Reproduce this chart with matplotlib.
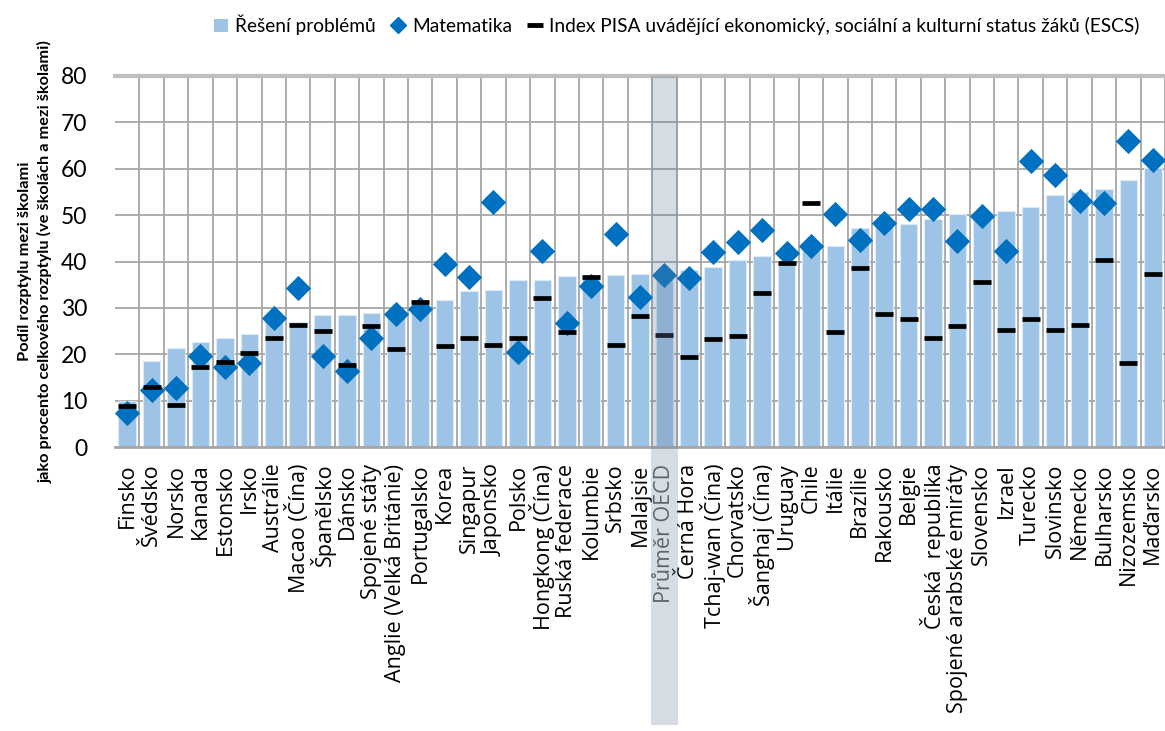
import matplotlib
matplotlib.use("Agg")
import matplotlib.pyplot as plt
from matplotlib.lines import Line2D
from matplotlib.patches import Patch, Rectangle
import matplotlib.transforms as mtransforms

categories = ["Finsko", "Švédsko", "Norsko", "Kanada", "Estonsko", "Irsko", "Austrálie",
              "Macao (Čína)", "Španělsko", "Dánsko", "Spojené státy", "Anglie (Velká Británie)",
              "Portugalsko", "Korea", "Singapur", "Japonsko", "Polsko", "Hongkong (Čína)",
              "Ruská federace", "Kolumbie", "Srbsko", "Malajsie", "Průměr OECD", "Černá Hora",
              "Tchaj-wan (Čína)", "Chorvatsko", "Šanghaj (Čína)", "Uruguay", "Chile", "Itálie",
              "Brazílie", "Rakousko", "Belgie", "Česká  republika", "Spojené arabské emiráty",
              "Slovensko", "Izrael", "Turecko", "Slovinsko", "Německo", "Bulharsko",
              "Nizozemsko", "Maďarsko"]

reseni_problemu = [10.0, 18.5, 21.4, 22.6, 23.6, 24.4, 27.0, 26.9, 28.5, 28.5, 28.8, 29.2,
                   30.0, 31.7, 33.7, 33.9, 36.0, 36.0, 36.8, 36.8, 37.0, 37.3, 36.8, 38.2,
                   38.9, 40.3, 41.2, 40.2, 43.0, 43.3, 47.2, 47.8, 48.1, 49.2, 50.3, 49.8,
                   50.9, 51.8, 54.3, 55.0, 55.6, 57.5, 60.1]

matematika = [7.4, 12.2, 12.8, 19.7, 17.2, 18.1, 27.8, 34.3, 19.7, 16.4, 23.5, 28.7,
              29.8, 39.5, 36.6, 52.9, 20.4, 42.3, 26.8, 34.8, 45.9, 32.3, 37.1, 36.4,
              42.0, 44.3, 46.8, 41.9, 43.3, 50.2, 44.7, 48.3, 51.4, 51.4, 44.4, 49.9,
              42.3, 61.7, 58.6, 53.0, 52.7, 65.9, 61.8]

escs = [8.8, 13.0, 9.0, 17.2, 18.4, 20.2, 23.5, 26.2, 25.0, 17.6, 26.0, 21.2,
        31.3, 21.7, 23.5, 22.1, 23.5, 32.2, 24.9, 36.7, 22.0, 28.3, 24.2, 19.3,
        23.3, 24.0, 33.1, 39.7, 52.7, 24.7, 38.7, 28.6, 27.5, 23.5, 26.0, 35.5,
        25.3, 27.6, 25.3, 26.3, 40.3, 18.1, 37.3]

yticks = [0, 10, 20, 30, 40, 50, 60, 70, 80]
highlight = "Průměr OECD"

legend_labels = ["Řešení problémů", "Matematika",
                 "Index PISA uvádějící ekonomický, sociální a kulturní status žáků (ESCS)"]
ylabel = "Podíl rozptylu mezi školami\njako procento celkového rozptylu (ve školách a mezi školami)"

FONT = ["Open Sans", "DejaVu Sans"]
LATO = ["Lato", "DejaVu Sans"]
plt.rcParams["font.family"] = FONT

fig = plt.figure(figsize=(11.65, 7.31), dpi=100)
ax = fig.add_axes([115 / 1165, (731 - 447) / 731, 1 - 115 / 1165, (447 - 76) / 731])

x = list(range(len(categories)))
bar_color = "#9DC3E6"
dia_color = "#0070C0"

ax.bar(x, reseni_problemu, width=0.72, color=bar_color, edgecolor="#DDEBF7",
       linewidth=0.8, zorder=2)
ax.scatter(x, matematika, marker="D", s=165, color=dia_color, zorder=3, linewidths=0)
ax.scatter(x, escs, marker="_", s=170, color="black", linewidths=3.4, zorder=4)

ax.set_xlim(-0.5, 42.32)
ax.set_ylim(0, 80)
ax.set_yticks(yticks)
ax.set_yticklabels([str(t) for t in yticks], fontsize=16.5, family=LATO)

# vertical gridlines between categories, horizontal at ticks
ax.set_xticks([i + 0.5 for i in range(len(categories))], minor=True)
ax.grid(True, which="minor", axis="x", color="#A6A6A6", linewidth=1.3, zorder=0)
ax.grid(True, which="major", axis="y", color="#A6A6A6", linewidth=1.3, zorder=0)
ax.set_axisbelow(True)
ax.tick_params(axis="x", which="both", length=0, pad=12)
ax.tick_params(axis="y", length=0, pad=20)

ax.set_xticks(x)
ax.set_xticklabels(categories, rotation=90, fontsize=15.5, va="top", ha="center")
for lbl in ax.get_xticklabels():
    if lbl.get_text() == highlight:
        lbl.set_color("#595959")

for side in ["left", "right"]:
    ax.spines[side].set_visible(False)
ax.spines["top"].set_color("#BFBFBF")
ax.spines["top"].set_linewidth(3)
ax.spines["bottom"].set_color("#A6A6A6")
ax.spines["bottom"].set_linewidth(2)

ax.set_ylabel(ylabel, fontsize=11.8, fontweight="bold", family=LATO,
              labelpad=6, linespacing=1.45)

# highlight band for OECD average
hi = categories.index(highlight)
trans = mtransforms.blended_transform_factory(ax.transData, ax.transAxes)
ax.add_patch(Rectangle((hi - 0.55, -0.748), 1.1, 1.748, transform=trans,
                       facecolor="#6C829F", alpha=0.28, edgecolor="none",
                       clip_on=False, zorder=10))

handles = [Patch(facecolor=bar_color, edgecolor="none"),
           Line2D([], [], marker="D", linestyle="none", color=dia_color, markersize=8),
           Line2D([], [], marker="_", linestyle="none", color="black", markersize=12,
                  markeredgewidth=3.5)]
fig.legend(handles, legend_labels, loc="center", bbox_to_anchor=(0.581, 0.966), ncol=3,
           frameon=False, handlelength=0.7, handletextpad=0.4,
           columnspacing=0.8, prop={"family": LATO, "size": 13.8})

fig.savefig("out.png", dpi=100)
